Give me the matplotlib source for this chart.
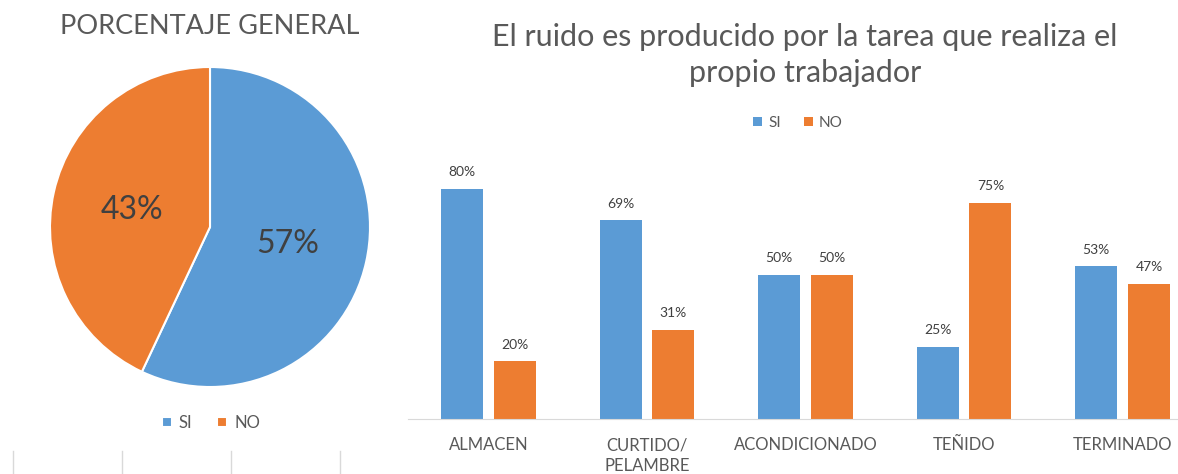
import matplotlib.pyplot as plt
import numpy as np
from matplotlib.lines import Line2D

plt.rcParams["font.family"] = ["Lato", "DejaVu Sans"]

# datos
general_labels = ["SI", "NO"]
general_values = [57, 43]

areas = ["ALMACEN", "CURTIDO/\nPELAMBRE", "ACONDICIONADO", "TEÑIDO", "TERMINADO"]
si_values = [80, 69, 50, 25, 53]
no_values = [20, 31, 50, 75, 47]

BLUE = "#5B9BD5"
ORANGE = "#ED7D31"
TEXT = "#595959"

W, H = 1178, 474
fig = plt.figure(figsize=(W / 100, H / 100), dpi=100)


def fx(px):
    return px / W


def fy(py):
    return 1 - py / H


# pie
ax_pie = fig.add_axes([fx(50), fy(387), 320 / W, 320 / H])
wedges, texts, autotexts = ax_pie.pie(
    general_values,
    colors=[BLUE, ORANGE],
    startangle=90,
    counterclock=False,
    autopct="%d%%",
    pctdistance=0.5,
    wedgeprops=dict(edgecolor="white", linewidth=1.5),
    textprops=dict(color="#404040", fontsize=23),
)
ax_pie.set_xlim(-1, 1)
ax_pie.set_ylim(-1, 1)
ax_pie.set_aspect("auto")
fig.text(fx(210), fy(26), "PORCENTAJE GENERAL", ha="center", va="center",
         fontsize=19.5, color=TEXT)
fig.legend(wedges, general_labels, loc="center", bbox_to_anchor=(fx(211), fy(423)),
           ncol=2, frameon=False, fontsize=12, labelcolor=TEXT,
           handlelength=0.6, handleheight=0.6, handletextpad=0.4, columnspacing=1.5)

# bars
x = np.arange(len(areas))
width = 0.265
off = 0.167
ax = fig.add_axes([fx(408), fy(419), (W - 408) / W, 288 / H])
b1 = ax.bar(x - off, si_values, width, color=BLUE, label="SI")
b2 = ax.bar(x + off, no_values, width, color=ORANGE, label="NO")
for bars, vals in ((b1, si_values), (b2, no_values)):
    for rect, v in zip(bars, vals):
        ax.annotate(f"{v}%", (rect.get_x() + rect.get_width() / 2, v),
                    xytext=(0, 12), textcoords="offset points",
                    ha="center", va="center", fontsize=10, color="#404040")
ax.set_xlim((408 - 488.5) / 158.5, (W - 488.5) / 158.5)
ax.set_ylim(0, 100)
ax.set_xticks(x)
ax.set_xticklabels(areas, fontsize=12, color=TEXT, linespacing=1.4)
ax.tick_params(axis="x", length=0, pad=13)
ax.set_yticks([])
for s in ("top", "right", "left"):
    ax.spines[s].set_visible(False)
ax.spines["bottom"].set_color("#D9D9D9")
fig.text(fx(805), fy(37), "El ruido es producido por la tarea que realiza el",
         ha="center", va="center", fontsize=22, color=TEXT)
fig.text(fx(805), fy(73), "propio trabajador", ha="center", va="center",
         fontsize=22, color=TEXT)
fig.legend([b1, b2], ["SI", "NO"], loc="center", bbox_to_anchor=(fx(798), fy(123)),
           ncol=2, frameon=False, fontsize=11, labelcolor=TEXT,
           handlelength=0.6, handleheight=0.6, handletextpad=0.4, columnspacing=1.5)

# celdas de la hoja
for px in (13, 122, 231, 340):
    fig.add_artist(Line2D([fx(px), fx(px)], [fy(451), 0], color="#D9D9D9", lw=1))

fig.savefig("out.png", dpi=100)
